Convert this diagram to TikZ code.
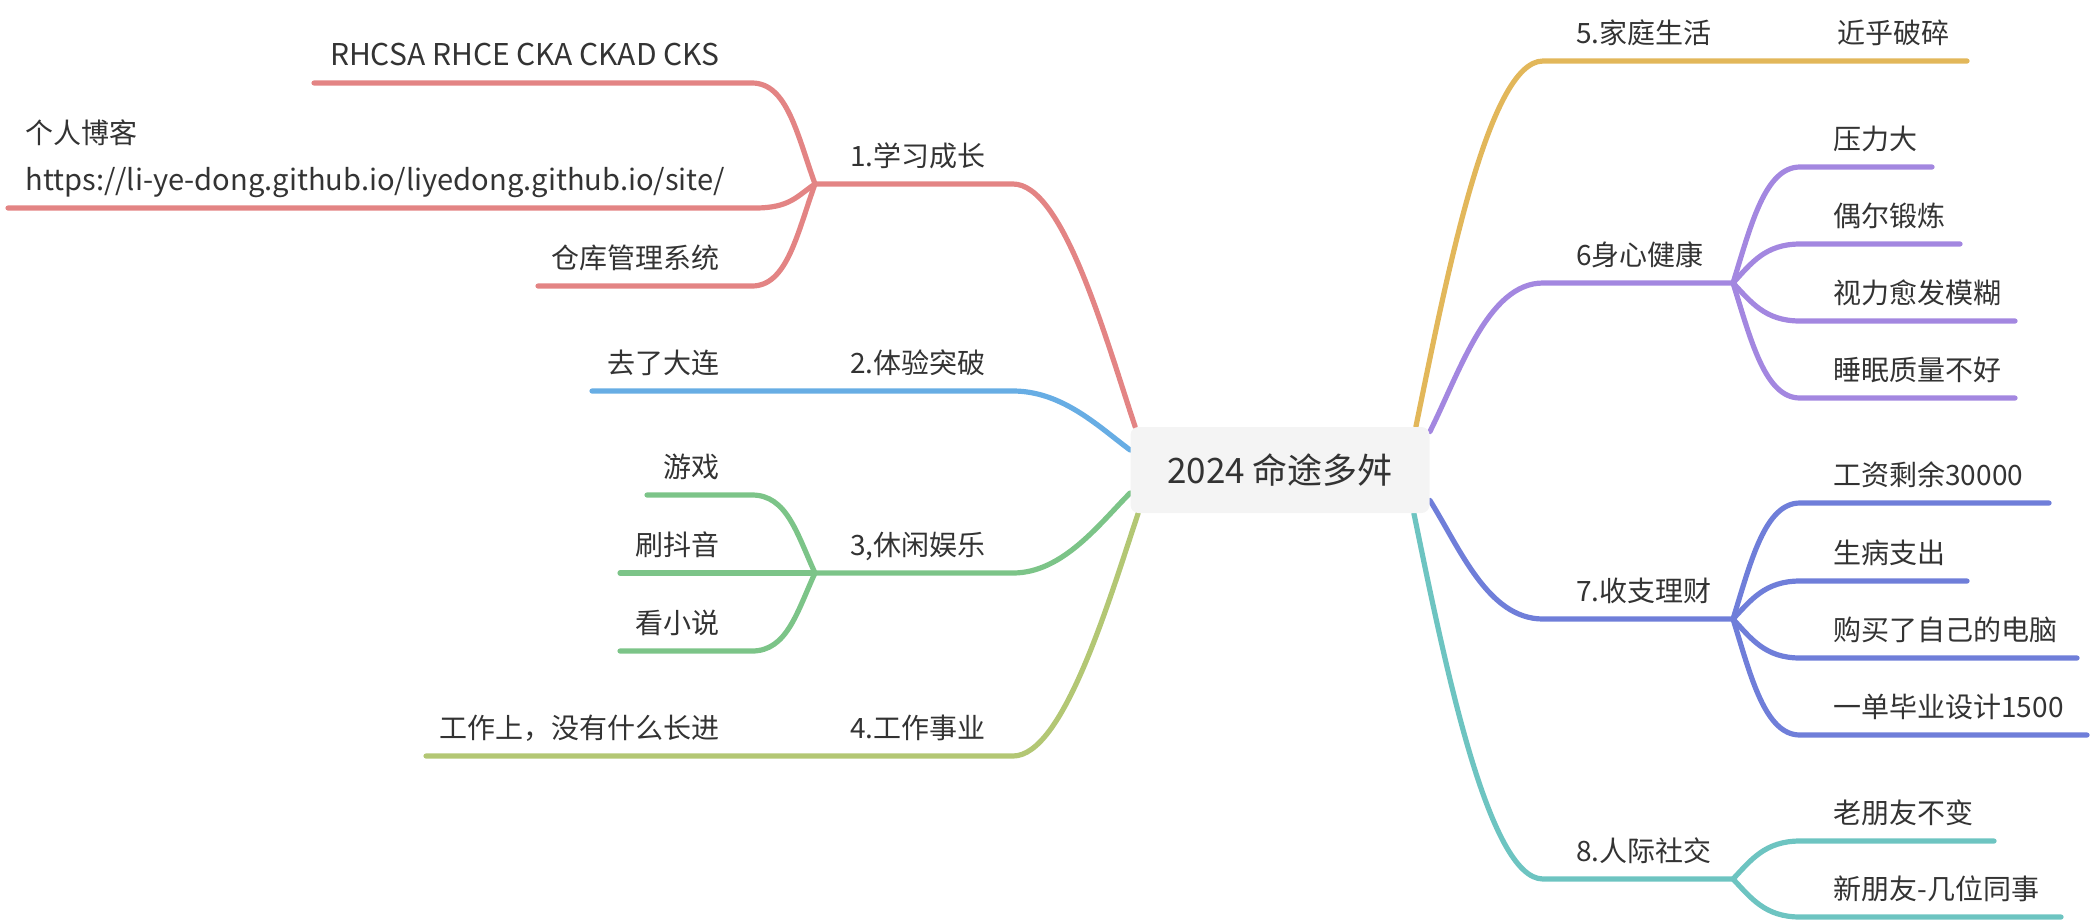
\documentclass[tikz,border=0pt]{standalone}
\usepackage{fontspec}
\setmainfont{Noto Sans CJK SC}
\usetikzlibrary{backgrounds}

\definecolor{hred}{HTML}{E38484}
\definecolor{hblue}{HTML}{67ADE4}
\definecolor{hgreen}{HTML}{7CC488}
\definecolor{holive}{HTML}{B3C774}
\definecolor{hgold}{HTML}{E2B75A}
\definecolor{hpurple}{HTML}{A387E0}
\definecolor{hindigo}{HTML}{6F7ED9}
\definecolor{hteal}{HTML}{6DC4C1}
\definecolor{rootgray}{HTML}{F4F4F4}
\definecolor{txtgray}{HTML}{333333}

\begin{document}
\begin{tikzpicture}[x=0.5bp,y=-0.5bp]
  \tikzset{branch/.style={draw=#1,line width=2.6bp,line cap=round},
    txt/.style={inner sep=0pt,text=txtgray,font=\fontsize{14bp}{17bp}\selectfont}}
  \useasboundingbox (0,0) rectangle (2096,923);

  %% The root in the middle
  \node (root) at (1280,470) [fill=rootgray,rounded corners=4bp,
    minimum width=149.5bp,minimum height=43bp,text=txtgray,
    font=\fontsize{17.5bp}{21bp}\selectfont] {2024 命途多舛};

  %% Main topics.  The text sits 18px above its line, the lines
  %% end in a junction from where the leaves fan out.
  \node (t1) at (986,166) [txt,anchor=base east] {1.学习成长};
  \node (t2) at (986,373) [txt,anchor=base east] {2.体验突破};
  \node (t3) at (986,555) [txt,anchor=base east] {3,休闲娱乐};
  \node (t4) at (986,738) [txt,anchor=base east] {4.工作事业};
  \node (t5) at (1576,43)  [txt,anchor=base west] {5.家庭生活};
  \node (t6) at (1576,265) [txt,anchor=base west] {6身心健康};
  \node (t7) at (1576,601) [txt,anchor=base west] {7.收支理财};
  \node (t8) at (1576,861) [txt,anchor=base west] {8.人际社交};

  \coordinate (t1a) at (1013,184); \coordinate (j1) at (815,184);
  \coordinate (t2a) at (1013,391); \coordinate (j2) at (592,391);
  \coordinate (t3a) at (1013,573); \coordinate (j3) at (815,573);
  \coordinate (t4a) at (1013,756); \coordinate (j4) at (426,756);
  \coordinate (t5a) at (1543,61);  \coordinate (j5) at (1967,61);
  \coordinate (t6a) at (1543,283); \coordinate (j6) at (1733,283);
  \coordinate (t7a) at (1543,619); \coordinate (j7) at (1733,619);
  \coordinate (t8a) at (1543,879); \coordinate (j8) at (1733,879);

  %% Branches from the root go behind it
  \begin{scope}[on background layer]
    \draw[branch=hred] ([xshift=2.5bp]root.north west)
      .. controls +(-30,-90) and +(50,0) .. (t1a) -- (j1);
    \draw[branch=hblue] ([yshift=10bp]root.west)
      .. controls +(-30,-22) and +(50,0) .. (t2a) -- (j2);
    \draw[branch=hgreen] ([yshift=-11.5bp]root.west)
      .. controls +(-30,30) and +(50,0) .. (t3a) -- (j3);
    \draw[branch=holive] ([xshift=4bp]root.south west)
      .. controls +(-30,90) and +(50,0) .. (t4a) -- (j4);
    \draw[branch=hgold] ([xshift=-7bp]root.north east)
      .. controls +(30,-146) and +(-55,0) .. (t5a) -- (j5);
    \draw[branch=hpurple] ([yshift=-2.5bp]root.north east)
      .. controls +(30,-60) and +(-55,0) .. (t6a) -- (j6);
    \draw[branch=hindigo] ([yshift=6.5bp]root.south east)
      .. controls +(30,48) and +(-55,0) .. (t7a) -- (j7);
    \draw[branch=hteal] ([xshift=-8bp]root.south east)
      .. controls +(30,146) and +(-55,0) .. (t8a) -- (j8);
  \end{scope}

  %% Leaves, left side (base of a two-line node is its last line)
  \node (l1a) at (720,65) [txt,anchor=base east,
    font=\fontsize{15bp}{18bp}\selectfont] {RHCSA RHCE CKA CKAD CKS};
  \node (l1b) at (25,190) [txt,anchor=base west,align=left,
    font=\fontsize{14bp}{23.5bp}\selectfont]
    {个人博客\\{\fontsize{14.55bp}{23.5bp}\selectfont https://li-ye-dong.github.io/liyedong.github.io/site/}};
  \node (l1c) at (720,268) [txt,anchor=base east] {仓库管理系统};
  \coordinate (l1a-s) at (752,83);  \coordinate (l1a-e) at (314,83);
  \coordinate (l1b-s) at (755,208); \coordinate (l1b-e) at (8,208);
  \coordinate (l1c-s) at (752,286); \coordinate (l1c-e) at (538,286);
  \draw[branch=hred] (j1) .. controls +(-18,-50) and +(35,0) .. (l1a-s) -- (l1a-e);
  \draw[branch=hred] (j1) .. controls +(-18,12) and +(35,0) .. (l1b-s) -- (l1b-e);
  \draw[branch=hred] (j1) .. controls +(-18,50) and +(35,0) .. (l1c-s) -- (l1c-e);

  \node (l2a) at (720,373) [txt,anchor=base east] {去了大连};

  \node (l3a) at (720,477) [txt,anchor=base east] {游戏};
  \node (l3b) at (720,555) [txt,anchor=base east] {刷抖音};
  \node (l3c) at (720,633) [txt,anchor=base east] {看小说};
  \coordinate (l3a-s) at (752,495); \coordinate (l3a-e) at (647,495);
  \coordinate (l3b-e) at (620,573);
  \coordinate (l3c-s) at (752,651); \coordinate (l3c-e) at (620,651);
  \draw[branch=hgreen] (j3) .. controls +(-18,-39) and +(35,0) .. (l3a-s) -- (l3a-e);
  \draw[branch=hgreen] (j3) -- (l3b-e);
  \draw[branch=hgreen] (j3) .. controls +(-18,39) and +(35,0) .. (l3c-s) -- (l3c-e);

  \node (l4a) at (720,738) [txt,anchor=base east] {工作上，没有什么长进};

  %% Leaves, right side
  \node (l5a) at (1837,43) [txt,anchor=base west] {近乎破碎};

  \foreach \n/\y/\e/\t in {a/167/1932/压力大, b/244/1960/偶尔锻炼,
      c/321/2015/视力愈发模糊, d/398/2015/睡眠质量不好} {
    \node (l6\n) at (1833,\y-18) [txt,anchor=base west] {\t};
    \coordinate (l6\n-s) at (1800,\y);
    \coordinate (l6\n-e) at (\e,\y);
    \pgfmathsetmacro\dy{(\y-283)*0.5}
    \draw[branch=hpurple] (j6) .. controls +(18,\dy) and +(-35,0) .. (l6\n-s) -- (l6\n-e);
  }

  \foreach \n/\y/\e/\t in {a/503/2049/工资剩余30000, b/581/1967/生病支出,
      c/658/2077/购买了自己的电脑, d/735/2087/一单毕业设计1500} {
    \node (l7\n) at (1833,\y-18) [txt,anchor=base west] {\t};
    \coordinate (l7\n-s) at (1800,\y);
    \coordinate (l7\n-e) at (\e,\y);
    \pgfmathsetmacro\dy{(\y-619)*0.5}
    \draw[branch=hindigo] (j7) .. controls +(18,\dy) and +(-35,0) .. (l7\n-s) -- (l7\n-e);
  }

  \foreach \n/\y/\e/\t in {a/841/1994/老朋友不变, b/917/2061/新朋友-几位同事} {
    \node (l8\n) at (1833,\y-18) [txt,anchor=base west] {\t};
    \coordinate (l8\n-s) at (1800,\y);
    \coordinate (l8\n-e) at (\e,\y);
    \pgfmathsetmacro\dy{(\y-879)*0.5}
    \draw[branch=hteal] (j8) .. controls +(18,\dy) and +(-35,0) .. (l8\n-s) -- (l8\n-e);
  }

\end{tikzpicture}
\end{document}
